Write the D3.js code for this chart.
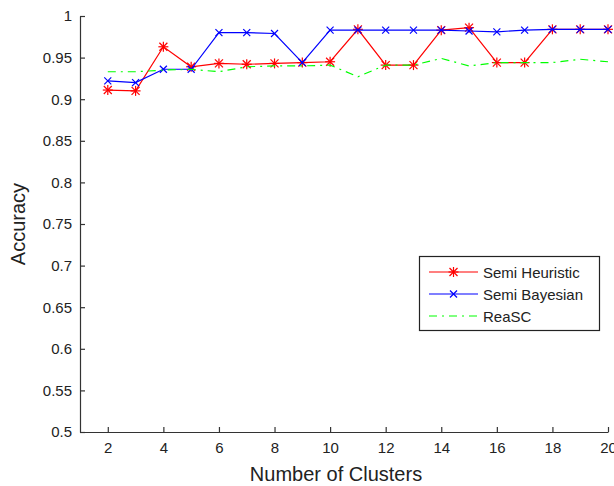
<!DOCTYPE html>
<html>
<head>
<meta charset="utf-8">
<script src="https://cdn.jsdelivr.net/npm/d3@7"></script>
<style>
  body { margin: 0; background: #fff; }
  text { font-family: "Liberation Sans", Arial, Helvetica, sans-serif; }
</style>
</head>
<body>
<div class="chart"></div>
<script>
var width = 614, height = 486;
var margin = {top: 16, right: 6, bottom: 54, left: 80};

var clusters = [2, 3, 4, 5, 6, 7, 8, 9, 10, 11, 12, 13, 14, 15, 16, 17, 18, 19, 20];
var semiHeuristic = [0.911, 0.910, 0.963, 0.939, 0.943, 0.942, 0.943, 0.944, 0.945, 0.984,
                     0.941, 0.941, 0.983, 0.986, 0.944, 0.944, 0.984, 0.984, 0.984];
var semiBayesian = [0.922, 0.920, 0.936, 0.936, 0.980, 0.980, 0.979, 0.944, 0.983, 0.983,
                    0.983, 0.983, 0.983, 0.982, 0.981, 0.983, 0.984, 0.984, 0.984];
var reaSC = [0.933, 0.933, 0.935, 0.936, 0.933, 0.939, 0.940, 0.940, 0.941, 0.927,
             0.941, 0.941, 0.949, 0.940, 0.944, 0.944, 0.944, 0.948, 0.945];
var xTicks = [2, 4, 6, 8, 10, 12, 14, 16, 18, 20];
var yTicks = [0.5, 0.55, 0.6, 0.65, 0.7, 0.75, 0.8, 0.85, 0.9, 0.95, 1];
var yTickLabels = ["0.5", "0.55", "0.6", "0.65", "0.7", "0.75", "0.8", "0.85", "0.9", "0.95", "1"];

var series = [
  {name: "Semi Heuristic", values: semiHeuristic, color: "#ff0000", marker: "star"},
  {name: "Semi Bayesian", values: semiBayesian, color: "#0000ff", marker: "x"},
  {name: "ReaSC", values: reaSC, color: "#00ff00", marker: null, dash: "8,5,2,5"}
];

var svg = d3.select(".chart").append("svg")
    .attr("width", width)
    .attr("height", height)
    .style("background-color", "#fff");

var x = d3.scaleLinear().domain([1, 20]).range([margin.left, width - margin.right]);
var y = d3.scaleLinear().domain([0.5, 1]).range([height - margin.bottom, margin.top]);

// axes, matlab style: ticks point inward
var xAxis = svg.append("g")
    .attr("transform", "translate(0," + (height - margin.bottom) + ")")
    .call(d3.axisBottom(x).tickValues(xTicks).tickSize(-5).tickSizeOuter(0).tickPadding(10));
var yAxis = svg.append("g")
    .attr("transform", "translate(" + margin.left + ",0)")
    .call(d3.axisLeft(y).tickValues(yTicks).tickSize(-5).tickSizeOuter(0).tickPadding(8)
      .tickFormat(function(d, i) { return yTickLabels[i]; }));

[xAxis, yAxis].forEach(function(g) {
  g.selectAll("path, line").attr("stroke", "#333").attr("stroke-width", 1.2);
  g.selectAll("text").attr("fill", "#222").style("font-size", "15px");
});

var line = d3.line()
    .x(function(d, i) { return x(clusters[i]); })
    .y(function(d) { return y(d); });

function drawMarker(g, kind, cx, cy, color) {
  var s = kind == "star" ? 4 : 3.5;
  var segs = [[-s, -s, s, s], [-s, s, s, -s]];
  if (kind == "star") segs.push([0, -s - 1, 0, s + 1], [-s - 1, 0, s + 1, 0]);
  segs.forEach(function(p) {
    g.append("line")
      .attr("x1", cx + p[0]).attr("y1", cy + p[1])
      .attr("x2", cx + p[2]).attr("y2", cy + p[3])
      .attr("stroke", color).attr("stroke-width", 1.2);
  });
}

series.forEach(function(s) {
  svg.append("path")
    .datum(s.values)
    .attr("d", line)
    .attr("fill", "none")
    .attr("stroke", s.color)
    .attr("stroke-width", 1.2)
    .attr("stroke-dasharray", s.dash || null);
  if (s.marker) {
    var mg = svg.append("g");
    s.values.forEach(function(v, i) { drawMarker(mg, s.marker, x(clusters[i]), y(v), s.color); });
  }
});

// axis titles
svg.append("text")
    .attr("x", 336).attr("y", 481)
    .attr("text-anchor", "middle")
    .style("font-size", "20px").attr("fill", "#222")
    .text("Number of Clusters");
svg.append("text")
    .attr("transform", "translate(25," + ((margin.top + height - margin.bottom) / 2) + ") rotate(-90)")
    .attr("text-anchor", "middle")
    .style("font-size", "20px").attr("fill", "#222")
    .text("Accuracy");

// legend
var legend = svg.append("g");
legend.append("rect")
    .attr("x", 419.5).attr("y", 256.5).attr("width", 180).attr("height", 74)
    .attr("fill", "#fff").attr("stroke", "#222").attr("stroke-width", 1.2);
series.forEach(function(s, i) {
  var ly = 272 + i * 22;
  legend.append("line")
    .attr("x1", 429).attr("x2", 478).attr("y1", ly).attr("y2", ly)
    .attr("stroke", s.color).attr("stroke-width", 1.2)
    .attr("stroke-dasharray", s.dash || null);
  if (s.marker) drawMarker(legend, s.marker, 453.5, ly, s.color);
  legend.append("text")
    .attr("x", 483).attr("y", ly + 5.5)
    .style("font-size", "15px").attr("fill", "#222")
    .text(s.name);
});
</script>
</body>
</html>
